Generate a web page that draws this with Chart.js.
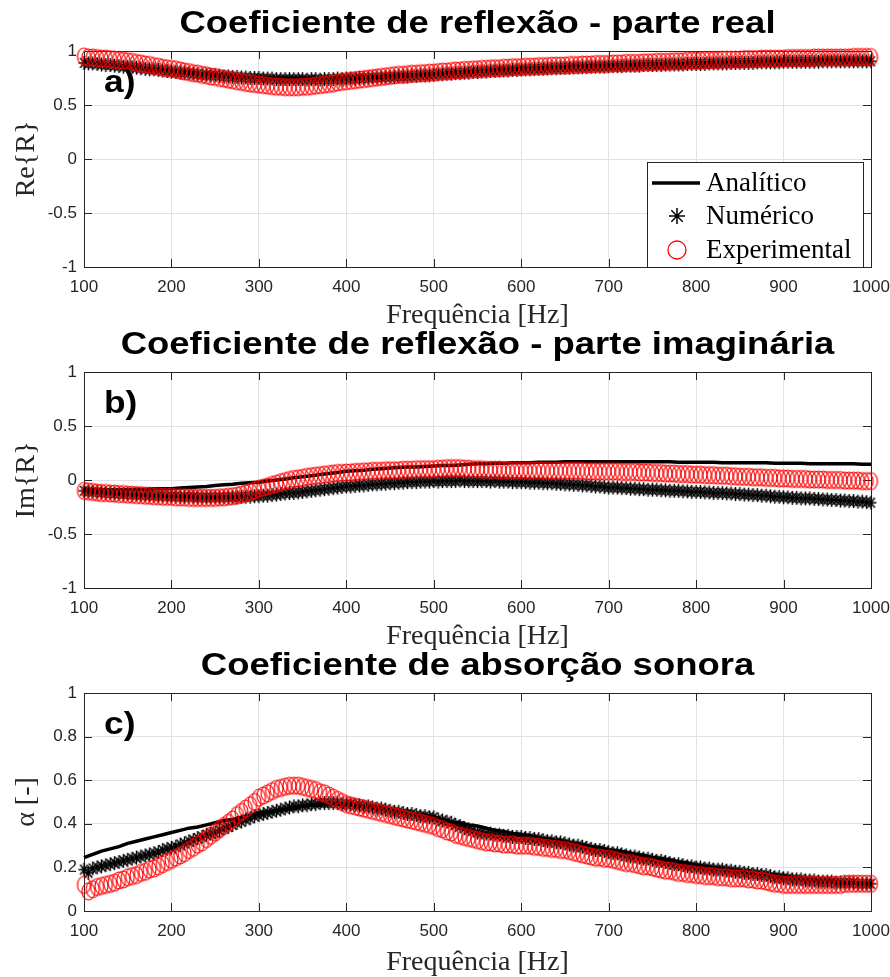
<!DOCTYPE html>
<html lang="pt">
<head>
<meta charset="utf-8">
<title>Coeficientes de reflexão e absorção sonora</title>
<script src="https://cdn.jsdelivr.net/npm/chart.js"></script>
<style>
  html, body { margin: 0; background: #fff; }
  #figure { position: relative; width: 890px; height: 977px; overflow: hidden; background: #fff; }
  #figure canvas { position: absolute; left: 0; }
</style>
</head>
<body>
<div id="figure">
  <canvas id="chartRe" width="890" height="330" style="top:0"></canvas>
  <canvas id="chartIm" width="890" height="325" style="top:326px"></canvas>
  <canvas id="chartAlpha" width="890" height="337" style="top:640px"></canvas>
</div>
<script>
// frequency grids (Hz): markers every 5 Hz, analytic curve every 10 Hz
const freqFine = Array.from({ length: 181 }, (_, i) => 100 + 5 * i);
const freqCoarse = Array.from({ length: 91 }, (_, i) => 100 + 10 * i);

const freqTicks = [100, 200, 300, 400, 500, 600, 700, 800, 900, 1000];
const reflTicks = [-1, -0.5, 0, 0.5, 1];
const alphaTicks = [0, 0.2, 0.4, 0.6, 0.8, 1];

// a) Re{R}
const reAna = [
  0.90, 0.89, 0.885, 0.875, 0.865, 0.86, 0.85, 0.84, 0.835, 0.825,
  0.82, 0.81, 0.805, 0.795, 0.79, 0.785, 0.775, 0.77, 0.765, 0.76,
  0.76, 0.755, 0.75, 0.75, 0.75, 0.75, 0.75, 0.75, 0.75, 0.75,
  0.75, 0.755, 0.76, 0.76, 0.765, 0.77, 0.775, 0.78, 0.78, 0.785,
  0.79, 0.795, 0.80, 0.805, 0.81, 0.815, 0.82, 0.825, 0.83, 0.835,
  0.84, 0.84, 0.845, 0.85, 0.85, 0.855, 0.86, 0.86, 0.865, 0.865,
  0.87, 0.87, 0.875, 0.875, 0.88, 0.88, 0.88, 0.885, 0.885, 0.885,
  0.89, 0.89, 0.895, 0.895, 0.895, 0.90, 0.90, 0.90, 0.905, 0.905,
  0.91, 0.91, 0.91, 0.91, 0.915, 0.915, 0.915, 0.915, 0.92, 0.92,
  0.92
];
const reNum = [
  0.89, 0.885, 0.885, 0.88, 0.875, 0.87, 0.87, 0.865, 0.86, 0.855,
  0.855, 0.85, 0.845, 0.84, 0.835, 0.83, 0.83, 0.825, 0.82, 0.815,
  0.81, 0.805, 0.80, 0.80, 0.795, 0.79, 0.785, 0.78, 0.78, 0.775,
  0.775, 0.77, 0.765, 0.765, 0.76, 0.76, 0.755, 0.755, 0.75, 0.75,
  0.75, 0.745, 0.745, 0.745, 0.74, 0.74, 0.74, 0.74, 0.74, 0.74,
  0.74, 0.735, 0.74, 0.74, 0.735, 0.74, 0.74, 0.74, 0.745, 0.74,
  0.745, 0.745, 0.745, 0.75, 0.75, 0.75, 0.755, 0.755, 0.755, 0.76,
  0.76, 0.76, 0.765, 0.765, 0.765, 0.77, 0.77, 0.775, 0.775, 0.775,
  0.78, 0.785, 0.785, 0.79, 0.79, 0.795, 0.795, 0.80, 0.80, 0.805,
  0.805, 0.81, 0.81, 0.815, 0.815, 0.82, 0.82, 0.82, 0.825, 0.825,
  0.83, 0.83, 0.83, 0.835, 0.835, 0.835, 0.84, 0.84, 0.84, 0.845,
  0.845, 0.845, 0.85, 0.85, 0.85, 0.85, 0.855, 0.855, 0.855, 0.855,
  0.86, 0.86, 0.86, 0.86, 0.865, 0.865, 0.865, 0.865, 0.87, 0.87,
  0.87, 0.87, 0.87, 0.875, 0.875, 0.875, 0.875, 0.875, 0.88, 0.88,
  0.88, 0.88, 0.88, 0.885, 0.885, 0.885, 0.885, 0.885, 0.89, 0.89,
  0.89, 0.89, 0.89, 0.89, 0.895, 0.895, 0.895, 0.895, 0.895, 0.895,
  0.90, 0.90, 0.90, 0.90, 0.90, 0.90, 0.90, 0.90, 0.90, 0.905,
  0.905, 0.905, 0.905, 0.905, 0.905, 0.905, 0.905, 0.905, 0.905, 0.905,
  0.905
];
const reExp = [
  0.95, 0.94, 0.94, 0.935, 0.93, 0.93, 0.925, 0.92, 0.915, 0.91,
  0.905, 0.90, 0.89, 0.885, 0.875, 0.87, 0.86, 0.855, 0.845, 0.84,
  0.835, 0.83, 0.82, 0.81, 0.805, 0.795, 0.79, 0.78, 0.775, 0.765,
  0.76, 0.75, 0.745, 0.735, 0.73, 0.72, 0.715, 0.705, 0.70, 0.695,
  0.69, 0.685, 0.68, 0.675, 0.67, 0.67, 0.665, 0.665, 0.665, 0.665,
  0.67, 0.67, 0.675, 0.68, 0.685, 0.69, 0.695, 0.70, 0.71, 0.715,
  0.72, 0.725, 0.73, 0.735, 0.74, 0.745, 0.75, 0.755, 0.76, 0.765,
  0.77, 0.775, 0.78, 0.78, 0.785, 0.79, 0.79, 0.795, 0.795, 0.80,
  0.80, 0.805, 0.81, 0.81, 0.815, 0.82, 0.82, 0.825, 0.825, 0.83,
  0.83, 0.835, 0.835, 0.84, 0.84, 0.84, 0.845, 0.845, 0.85, 0.85,
  0.85, 0.855, 0.855, 0.855, 0.86, 0.86, 0.86, 0.865, 0.865, 0.865,
  0.865, 0.87, 0.87, 0.87, 0.875, 0.875, 0.875, 0.88, 0.88, 0.88,
  0.88, 0.885, 0.885, 0.885, 0.89, 0.89, 0.89, 0.89, 0.895, 0.895,
  0.895, 0.90, 0.90, 0.90, 0.90, 0.905, 0.905, 0.905, 0.91, 0.91,
  0.91, 0.91, 0.915, 0.915, 0.915, 0.915, 0.92, 0.92, 0.92, 0.92,
  0.92, 0.925, 0.925, 0.925, 0.925, 0.93, 0.93, 0.93, 0.93, 0.93,
  0.93, 0.935, 0.935, 0.935, 0.935, 0.935, 0.935, 0.94, 0.94, 0.94,
  0.94, 0.94, 0.94, 0.94, 0.94, 0.94, 0.945, 0.945, 0.945, 0.945,
  0.945
];

// b) Im{R}
const imAna = [
  -0.09, -0.09, -0.09, -0.09, -0.09, -0.09, -0.085, -0.085, -0.08, -0.08,
  -0.08, -0.075, -0.07, -0.065, -0.06, -0.05, -0.045, -0.04, -0.03, -0.025,
  -0.02, -0.01, 0.0, 0.01, 0.02, 0.03, 0.04, 0.05, 0.06, 0.07,
  0.08, 0.085, 0.09, 0.10, 0.105, 0.11, 0.115, 0.12, 0.12, 0.125,
  0.13, 0.135, 0.135, 0.14, 0.145, 0.15, 0.15, 0.155, 0.155, 0.16,
  0.16, 0.16, 0.165, 0.165, 0.165, 0.17, 0.17, 0.17, 0.17, 0.17,
  0.17, 0.17, 0.17, 0.17, 0.17, 0.17, 0.17, 0.17, 0.165, 0.165,
  0.165, 0.165, 0.165, 0.16, 0.16, 0.16, 0.16, 0.16, 0.16, 0.155,
  0.155, 0.155, 0.155, 0.15, 0.15, 0.15, 0.15, 0.15, 0.15, 0.145,
  0.145
];
const imNum = [
  -0.10, -0.105, -0.11, -0.11, -0.115, -0.12, -0.12, -0.125, -0.125, -0.13,
  -0.13, -0.135, -0.135, -0.14, -0.14, -0.14, -0.145, -0.145, -0.145, -0.15,
  -0.15, -0.15, -0.155, -0.155, -0.155, -0.155, -0.16, -0.16, -0.16, -0.16,
  -0.16, -0.16, -0.16, -0.16, -0.16, -0.16, -0.155, -0.155, -0.155, -0.15,
  -0.15, -0.145, -0.145, -0.14, -0.135, -0.13, -0.125, -0.12, -0.12, -0.115,
  -0.11, -0.105, -0.10, -0.095, -0.09, -0.085, -0.08, -0.075, -0.07, -0.065,
  -0.06, -0.06, -0.055, -0.05, -0.05, -0.045, -0.04, -0.04, -0.035, -0.035,
  -0.03, -0.03, -0.025, -0.025, -0.02, -0.02, -0.02, -0.015, -0.015, -0.015,
  -0.01, -0.015, -0.01, -0.01, -0.01, -0.01, -0.005, -0.01, -0.01, -0.01,
  -0.01, -0.01, -0.01, -0.015, -0.01, -0.015, -0.015, -0.015, -0.02, -0.02,
  -0.02, -0.02, -0.025, -0.025, -0.025, -0.03, -0.03, -0.03, -0.035, -0.035,
  -0.04, -0.04, -0.045, -0.045, -0.05, -0.05, -0.055, -0.06, -0.06, -0.065,
  -0.07, -0.07, -0.07, -0.075, -0.075, -0.08, -0.08, -0.085, -0.085, -0.09,
  -0.09, -0.09, -0.095, -0.095, -0.10, -0.10, -0.10, -0.105, -0.105, -0.11,
  -0.11, -0.11, -0.115, -0.115, -0.12, -0.12, -0.12, -0.125, -0.125, -0.13,
  -0.13, -0.135, -0.135, -0.14, -0.14, -0.145, -0.145, -0.15, -0.155, -0.155,
  -0.16, -0.16, -0.165, -0.165, -0.17, -0.17, -0.17, -0.175, -0.175, -0.18,
  -0.18, -0.185, -0.185, -0.19, -0.19, -0.195, -0.195, -0.20, -0.20, -0.205,
  -0.21
];
const imExp = [
  -0.10, -0.105, -0.11, -0.115, -0.12, -0.12, -0.125, -0.125, -0.13, -0.13,
  -0.135, -0.135, -0.14, -0.14, -0.145, -0.145, -0.15, -0.15, -0.155, -0.155,
  -0.155, -0.16, -0.16, -0.16, -0.165, -0.165, -0.165, -0.165, -0.165, -0.165,
  -0.165, -0.16, -0.16, -0.155, -0.15, -0.145, -0.135, -0.125, -0.11, -0.095,
  -0.08, -0.07, -0.06, -0.045, -0.035, -0.02, -0.01, 0.0, 0.01, 0.015,
  0.02, 0.03, 0.035, 0.04, 0.045, 0.05, 0.055, 0.06, 0.065, 0.065,
  0.07, 0.07, 0.075, 0.075, 0.08, 0.08, 0.085, 0.085, 0.085, 0.09,
  0.09, 0.09, 0.09, 0.095, 0.095, 0.095, 0.10, 0.10, 0.10, 0.10,
  0.10, 0.105, 0.105, 0.11, 0.11, 0.11, 0.11, 0.105, 0.105, 0.10,
  0.10, 0.10, 0.095, 0.095, 0.095, 0.095, 0.09, 0.09, 0.09, 0.09,
  0.09, 0.09, 0.09, 0.09, 0.09, 0.09, 0.085, 0.085, 0.085, 0.085,
  0.085, 0.085, 0.085, 0.085, 0.085, 0.08, 0.08, 0.08, 0.08, 0.08,
  0.08, 0.08, 0.08, 0.075, 0.075, 0.075, 0.075, 0.07, 0.07, 0.07,
  0.065, 0.065, 0.065, 0.06, 0.06, 0.06, 0.055, 0.055, 0.055, 0.05,
  0.05, 0.05, 0.045, 0.045, 0.045, 0.04, 0.04, 0.04, 0.035, 0.035,
  0.03, 0.03, 0.03, 0.025, 0.025, 0.025, 0.02, 0.02, 0.02, 0.015,
  0.015, 0.015, 0.01, 0.01, 0.01, 0.01, 0.005, 0.005, 0.005, 0.005,
  0.0, 0.0, 0.0, 0.0, -0.005, -0.005, -0.005, -0.005, -0.01, -0.01,
  -0.01
];

// c) absorption coefficient
const alphaAna = [
  0.245, 0.26, 0.275, 0.285, 0.295, 0.31, 0.32, 0.33, 0.34, 0.35,
  0.36, 0.37, 0.38, 0.385, 0.395, 0.405, 0.415, 0.42, 0.43, 0.44,
  0.45, 0.455, 0.46, 0.465, 0.47, 0.48, 0.485, 0.485, 0.49, 0.49,
  0.49, 0.485, 0.48, 0.48, 0.475, 0.465, 0.46, 0.455, 0.445, 0.44,
  0.43, 0.42, 0.41, 0.405, 0.395, 0.39, 0.38, 0.37, 0.365, 0.355,
  0.35, 0.345, 0.335, 0.33, 0.325, 0.32, 0.31, 0.305, 0.295, 0.29,
  0.28, 0.275, 0.27, 0.26, 0.255, 0.245, 0.24, 0.235, 0.225, 0.22,
  0.21, 0.205, 0.20, 0.195, 0.19, 0.185, 0.18, 0.175, 0.17, 0.165,
  0.16, 0.155, 0.15, 0.145, 0.14, 0.14, 0.135, 0.13, 0.13, 0.125,
  0.125
];
const alphaNum = [
  0.19, 0.175, 0.195, 0.20, 0.205, 0.21, 0.215, 0.22, 0.225, 0.23,
  0.235, 0.24, 0.245, 0.25, 0.255, 0.26, 0.265, 0.27, 0.28, 0.285,
  0.29, 0.295, 0.305, 0.31, 0.32, 0.325, 0.335, 0.34, 0.35, 0.355,
  0.36, 0.37, 0.38, 0.385, 0.395, 0.405, 0.41, 0.42, 0.425, 0.435,
  0.44, 0.445, 0.45, 0.455, 0.46, 0.465, 0.47, 0.475, 0.48, 0.48,
  0.485, 0.485, 0.49, 0.49, 0.495, 0.495, 0.495, 0.495, 0.495, 0.49,
  0.49, 0.49, 0.485, 0.485, 0.48, 0.48, 0.475, 0.47, 0.47, 0.465,
  0.46, 0.455, 0.455, 0.45, 0.445, 0.445, 0.44, 0.435, 0.435, 0.43,
  0.43, 0.42, 0.415, 0.41, 0.405, 0.395, 0.39, 0.38, 0.375, 0.37,
  0.36, 0.36, 0.355, 0.355, 0.35, 0.35, 0.345, 0.345, 0.34, 0.34,
  0.34, 0.335, 0.335, 0.33, 0.33, 0.325, 0.32, 0.32, 0.315, 0.315,
  0.31, 0.305, 0.30, 0.30, 0.295, 0.29, 0.285, 0.28, 0.28, 0.275,
  0.27, 0.265, 0.265, 0.26, 0.255, 0.25, 0.25, 0.245, 0.24, 0.24,
  0.235, 0.23, 0.23, 0.225, 0.22, 0.215, 0.215, 0.21, 0.205, 0.205,
  0.20, 0.20, 0.195, 0.195, 0.19, 0.19, 0.19, 0.185, 0.185, 0.18,
  0.18, 0.175, 0.175, 0.17, 0.17, 0.165, 0.165, 0.16, 0.155, 0.155,
  0.15, 0.15, 0.145, 0.145, 0.145, 0.14, 0.14, 0.14, 0.135, 0.135,
  0.135, 0.135, 0.13, 0.13, 0.13, 0.13, 0.13, 0.125, 0.125, 0.125,
  0.125
];
const alphaExp = [
  0.12, 0.09, 0.10, 0.11, 0.115, 0.12, 0.125, 0.13, 0.14, 0.145,
  0.155, 0.16, 0.165, 0.175, 0.18, 0.19, 0.195, 0.205, 0.215, 0.225,
  0.235, 0.245, 0.255, 0.265, 0.28, 0.29, 0.305, 0.315, 0.33, 0.345,
  0.36, 0.375, 0.39, 0.405, 0.42, 0.44, 0.455, 0.47, 0.485, 0.50,
  0.52, 0.53, 0.54, 0.55, 0.56, 0.565, 0.57, 0.575, 0.575, 0.575,
  0.57, 0.565, 0.56, 0.555, 0.545, 0.54, 0.53, 0.52, 0.51, 0.50,
  0.49, 0.485, 0.48, 0.475, 0.47, 0.465, 0.46, 0.455, 0.45, 0.445,
  0.44, 0.435, 0.43, 0.425, 0.42, 0.415, 0.41, 0.405, 0.40, 0.395,
  0.39, 0.38, 0.375, 0.365, 0.36, 0.35, 0.345, 0.34, 0.335, 0.33,
  0.325, 0.32, 0.315, 0.315, 0.31, 0.31, 0.305, 0.305, 0.305, 0.30,
  0.30, 0.30, 0.30, 0.295, 0.295, 0.29, 0.29, 0.285, 0.285, 0.28,
  0.28, 0.275, 0.27, 0.265, 0.26, 0.255, 0.25, 0.245, 0.245, 0.24,
  0.24, 0.235, 0.23, 0.225, 0.22, 0.22, 0.215, 0.21, 0.205, 0.205,
  0.20, 0.195, 0.19, 0.185, 0.185, 0.18, 0.175, 0.175, 0.17, 0.17,
  0.165, 0.165, 0.16, 0.16, 0.16, 0.155, 0.155, 0.155, 0.15, 0.15,
  0.15, 0.15, 0.145, 0.145, 0.14, 0.14, 0.135, 0.13, 0.125, 0.125,
  0.12, 0.12, 0.12, 0.12, 0.12, 0.12, 0.12, 0.12, 0.12, 0.12,
  0.12, 0.12, 0.12, 0.12, 0.125, 0.125, 0.125, 0.125, 0.125, 0.125,
  0.125
];

const AXIS_COLOR = '#262626';
const GRID_COLOR = '#e2e2e2';
const SANS = "'Liberation Sans', Arial, sans-serif";
const SERIF = "'Liberation Serif', 'Times New Roman', serif";
const TICK_LEN = 8;

const toPoints = (xs, ys) => xs.map((x, i) => ({ x, y: ys[i] }));

// marker sprites: the exported figure has slightly tall markers
function ringSprite(rx, ry, color, lw) {
    const c = document.createElement('canvas');
    c.width = Math.ceil(2 * rx + lw + 2);
    c.height = Math.ceil(2 * ry + lw + 2);
    const g = c.getContext('2d');
    g.strokeStyle = color;
    g.lineWidth = lw;
    g.beginPath();
    g.ellipse(c.width / 2, c.height / 2, rx, ry, 0, 0, 2 * Math.PI);
    g.stroke();
    return c;
}

function starSprite(rx, ry, color, lw) {
    const c = document.createElement('canvas');
    c.width = Math.ceil(2 * rx + lw + 2);
    c.height = Math.ceil(2 * ry + lw + 2);
    const g = c.getContext('2d');
    const cx = c.width / 2, cy = c.height / 2;
    g.strokeStyle = color;
    g.lineWidth = lw;
    g.beginPath();
    [0, 45, 90, 135].forEach(deg => {
        const t = deg * Math.PI / 180;
        const dx = rx * Math.cos(t), dy = ry * Math.sin(t);
        g.moveTo(cx - dx, cy - dy);
        g.lineTo(cx + dx, cy + dy);
    });
    g.stroke();
    return c;
}

const ringMarker = ringSprite(6.5, 8.5, '#ff0000', 1.2);
const starMarker = starSprite(5.5, 7, '#000000', 1.4);

// stretched bold text, Helvetica-like titles are a bit wider than Arial
function wideText(ctx, text, x, y, size, align) {
    ctx.save();
    ctx.font = `bold ${size}px ${SANS}`;
    ctx.textAlign = align;
    ctx.textBaseline = 'alphabetic';
    ctx.translate(x, y);
    ctx.scale(1.14, 1);
    ctx.fillStyle = '#000';
    ctx.fillText(text, 0, 0);
    ctx.restore();
}

const figurePlugin = {
    id: 'figure',
    // full axes box with inward tick marks
    beforeDatasetsDraw(chart) {
        const { ctx, chartArea: a, scales } = chart;
        ctx.save();
        ctx.strokeStyle = AXIS_COLOR;
        ctx.lineWidth = 1;
        ctx.strokeRect(a.left + 0.5, a.top + 0.5, a.right - a.left, a.bottom - a.top);
        ctx.beginPath();
        scales.x.ticks.forEach(t => {
            const px = Math.round(scales.x.getPixelForValue(t.value)) + 0.5;
            ctx.moveTo(px, a.bottom); ctx.lineTo(px, a.bottom - TICK_LEN);
            ctx.moveTo(px, a.top); ctx.lineTo(px, a.top + TICK_LEN);
        });
        scales.y.ticks.forEach(t => {
            const py = Math.round(scales.y.getPixelForValue(t.value)) + 0.5;
            ctx.moveTo(a.left, py); ctx.lineTo(a.left + TICK_LEN, py);
            ctx.moveTo(a.right, py); ctx.lineTo(a.right - TICK_LEN, py);
        });
        ctx.stroke();
        ctx.restore();
    },
    afterDraw(chart, args, opts) {
        const { ctx, chartArea: a } = chart;
        wideText(ctx, opts.title, (a.left + a.right) / 2, a.top - 18, 32, 'center');
        wideText(ctx, opts.tag, a.left + 20, a.top + 41, 31, 'left');
        if (!opts.legend) return;

        const bw = 216, bh = 105;
        const bx = a.right - 8 - bw, by = a.bottom - bh;
        ctx.save();
        ctx.fillStyle = '#fff';
        ctx.fillRect(bx, by, bw, bh);
        ctx.strokeStyle = AXIS_COLOR;
        ctx.lineWidth = 1;
        ctx.strokeRect(bx + 0.5, by + 0.5, bw, bh);

        const rows = [by + 21, by + 54, by + 88];
        const mx = bx + 30;
        ctx.strokeStyle = '#000';
        ctx.lineWidth = 3.5;
        ctx.beginPath();
        ctx.moveTo(bx + 5, rows[0]);
        ctx.lineTo(bx + 53, rows[0]);
        ctx.stroke();
        ctx.lineWidth = 1.5;
        Chart.helpers.drawPoint(ctx, { pointStyle: 'star', radius: 8, borderWidth: 1.5, rotation: 0 }, mx, rows[1]);
        ctx.strokeStyle = '#ff0000';
        ctx.lineWidth = 1.3;
        ctx.fillStyle = 'rgba(0,0,0,0)';
        Chart.helpers.drawPoint(ctx, { pointStyle: 'circle', radius: 9, borderWidth: 1.3, rotation: 0 }, mx, rows[2]);

        ctx.fillStyle = '#000';
        ctx.font = `27px ${SERIF}`;
        ctx.textAlign = 'left';
        ctx.textBaseline = 'middle';
        ['Analítico', 'Numérico', 'Experimental'].forEach((s, i) => ctx.fillText(s, bx + 59, rows[i] + 1));
        ctx.restore();
    }
};

function makePanel(canvasId, cfg) {
    const tickFont = { family: SANS, size: 17 };
    return new Chart(document.getElementById(canvasId), {
        type: 'line',
        data: {
            datasets: [
                {
                    label: 'Analítico',
                    data: toPoints(freqCoarse, cfg.ana),
                    borderColor: '#000',
                    borderWidth: 3.5,
                    pointRadius: 0,
                    tension: 0,
                    clip: false,
                    order: 3,
                },
                {
                    label: 'Numérico',
                    data: toPoints(freqFine, cfg.num),
                    showLine: false,
                    pointStyle: starMarker,
                    pointRadius: 7,
                    borderColor: '#000',
                    clip: false,
                    order: 2,
                },
                {
                    label: 'Experimental',
                    data: toPoints(freqFine, cfg.exp),
                    showLine: false,
                    pointStyle: ringMarker,
                    pointRadius: 8.5,
                    borderColor: '#ff0000',
                    clip: false,
                    order: 1,
                },
            ],
        },
        options: {
            responsive: false,
            animation: false,
            events: [],
            layout: { padding: { top: cfg.top, right: 19, bottom: 0, left: 0 } },
            plugins: {
                legend: { display: false },
                tooltip: { enabled: false },
                figure: { title: cfg.title, tag: cfg.tag, legend: !!cfg.legend },
            },
            scales: {
                x: {
                    type: 'linear',
                    min: 100,
                    max: 1000,
                    afterBuildTicks: (s) => { s.ticks = freqTicks.map(v => ({ value: v })); },
                    afterFit: (s) => {
                        s.height = cfg.xHeight;
                        // labels may overhang the axes ends
                        s.paddingLeft = 0;
                        s.paddingRight = 0;
                    },
                    grid: { color: GRID_COLOR, lineWidth: 1, drawTicks: false },
                    border: { display: false },
                    ticks: { color: AXIS_COLOR, font: tickFont, padding: 10, maxRotation: 0, callback: v => String(v) },
                    title: {
                        display: true,
                        text: 'Frequência [Hz]',
                        color: AXIS_COLOR,
                        font: { family: SERIF, size: 28, lineHeight: 1 },
                        padding: { top: 0, bottom: 0 },
                    },
                },
                y: {
                    type: 'linear',
                    min: cfg.yTicks[0],
                    max: cfg.yTicks[cfg.yTicks.length - 1],
                    afterBuildTicks: (s) => { s.ticks = cfg.yTicks.map(v => ({ value: v })); },
                    afterFit: (s) => {
                        s.width = 84;
                        s.paddingTop = 0;
                        s.paddingBottom = 0;
                    },
                    grid: { color: GRID_COLOR, lineWidth: 1, drawTicks: false },
                    border: { display: false },
                    ticks: { color: AXIS_COLOR, font: tickFont, padding: 7, callback: v => String(v) },
                    title: {
                        display: true,
                        text: cfg.yLabel,
                        color: AXIS_COLOR,
                        font: { family: SERIF, size: 28, lineHeight: 1 },
                        padding: { top: 13, bottom: 0 },
                    },
                },
            },
        },
        plugins: [figurePlugin],
    });
}

makePanel('chartRe', {
    title: 'Coeficiente de reflexão - parte real',
    tag: 'a)',
    yLabel: 'Re{R}',
    yTicks: reflTicks,
    ana: reAna, num: reNum, exp: reExp,
    top: 51, xHeight: 63,
    legend: true,
});

makePanel('chartIm', {
    title: 'Coeficiente de reflexão - parte imaginária',
    tag: 'b)',
    yLabel: 'Im{R}',
    yTicks: reflTicks,
    ana: imAna, num: imNum, exp: imExp,
    top: 46, xHeight: 63,
});

makePanel('chartAlpha', {
    title: 'Coeficiente de absorção sonora',
    tag: 'c)',
    yLabel: 'α [-]',
    yTicks: alphaTicks,
    ana: alphaAna, num: alphaNum, exp: alphaExp,
    top: 53, xHeight: 66,
});
</script>
</body>
</html>
